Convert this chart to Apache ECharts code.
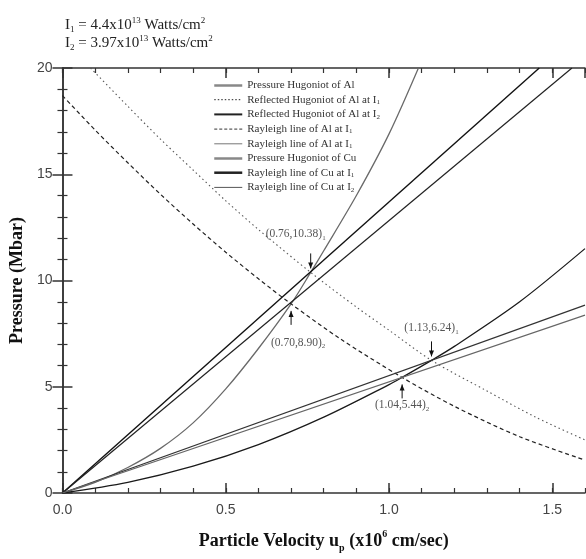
<!DOCTYPE html>
<html>
<head>
<meta charset="utf-8">
<script src="https://cdn.jsdelivr.net/npm/echarts@6/dist/echarts.min.js"></script>
<style>
  html, body { margin: 0; padding: 0; background: #fff; }
  #chart { width: 586px; height: 559px; }
</style>
</head>
<body>
<div id="chart"></div>
<script>
// values: particle velocity (x10^6 cm/sec) vs pressure (Mbar)
var alHugU = [0, 0.1, 0.2, 0.3, 0.4, 0.5, 0.6, 0.7, 0.76, 0.8, 0.9, 1.0, 1.09];
var alHugP = [0, 0.5, 1.2, 2.1, 3.3, 4.9, 6.8, 8.9, 10.38, 11.4, 14.0, 16.9, 20];

var reflI1U = [0.086, 0.2, 0.3, 0.4, 0.5, 0.6, 0.76, 0.9, 1.0, 1.13, 1.3, 1.45, 1.6];
var reflI1P = [20, 18.2, 16.65, 15.2, 13.75, 12.4, 10.38, 8.75, 7.66, 6.24, 4.8, 3.56, 2.5];

var reflI2U = [0, 0.1, 0.2, 0.3, 0.4, 0.5, 0.6, 0.7, 0.85, 1.04, 1.2, 1.4, 1.6];
var reflI2P = [18.7, 17.08, 15.54, 14.06, 12.66, 11.33, 10.08, 8.9, 7.26, 5.44, 4.08, 2.65, 1.55];

var rayAlI1U = [0, 1.46];
var rayAlI1P = [0, 20];
var rayAlI2U = [0, 1.56];
var rayAlI2P = [0, 20];

var cuHugU = [0, 0.2, 0.4, 0.6, 0.8, 1.0, 1.04, 1.13, 1.2, 1.4, 1.6];
var cuHugP = [0, 0.5, 1.26, 2.28, 3.57, 5.1, 5.44, 6.24, 6.9, 9.0, 11.5];

var rayCuI1U = [0, 1.6];
var rayCuI1P = [0, 8.84];
var rayCuI2U = [0, 1.6];
var rayCuI2P = [0, 8.37];

// marked crossing points
var noteU = [0.76, 0.70, 1.13, 1.04];
var noteP = [10.38, 8.90, 6.24, 5.44];
var noteSub = ['1', '2', '1', '2'];

// legend text (subscript kept apart)
var seriesKeys = ['alHug', 'reflI1', 'reflI2', 'rayAlI1', 'rayAlI2', 'cuHug', 'rayCuI1', 'rayCuI2'];
var legendText = ['Pressure Hugoniot of Al', 'Reflected Hugoniot of Al at I', 'Reflected Hugoniot of Al at I',
  'Rayleigh line of Al at I', 'Rayleigh line of Al at I', 'Pressure Hugoniot of Cu',
  'Rayleigh line of Cu at I', 'Rayleigh line of Cu at I'];
var legendSub = ['', '1', '2', '1', '1', '', '1', '2'];

var serif = 'Liberation Serif';
var sans = 'Liberation Sans';

function pairs(u, p) {
  return u.map(function (v, i) { return [v, p[i]]; });
}

function lineSeries(name, u, p, style, smooth) {
  return {
    name: name, type: 'line', data: pairs(u, p), symbol: 'none',
    smooth: smooth ? 0.3 : false, lineStyle: style, xAxisIndex: 0, yAxisIndex: 0,
    emphasis: { disabled: true }
  };
}

var noteDx = [-15, 7, 0, 0];
var noteDy = [-38, 39, -32, 28];

function renderNote(params, api) {
  var i = params.dataIndex;
  var pt = api.coord([api.value(0), api.value(1)]);
  var x = pt[0], y = pt[1];
  var below = noteDy[i] > 0;
  var tip = below ? y + 7 : y - 4;
  var tail = below ? y + 21 : y - 19;
  var base = below ? tip + 6 : tip - 6;
  var label = '(' + api.value(0).toFixed(2) + ',' + api.value(1).toFixed(2) + ')';
  return {
    type: 'group',
    children: [
      { type: 'line', shape: { x1: x, y1: tail, x2: x, y2: tip }, style: { stroke: '#111', lineWidth: 1 } },
      { type: 'polygon', shape: { points: [[x, tip], [x - 2.5, base], [x + 2.5, base]] }, style: { fill: '#111' } },
      {
        type: 'text', x: x + noteDx[i], y: y + noteDy[i],
        style: {
          text: '{a|' + label + '}{s|' + noteSub[i] + '}',
          align: 'center', verticalAlign: 'middle',
          rich: {
            a: { fontFamily: serif, fontSize: 11.5, fill: '#555', lineHeight: 14, verticalAlign: 'middle' },
            s: { fontFamily: serif, fontSize: 7, fill: '#555', lineHeight: 8, verticalAlign: 'bottom' }
          }
        }
      }
    ]
  };
}

var axisLine = { show: true, lineStyle: { color: '#333', width: 1.5 } };
var tickMajor = { show: true, inside: true, length: 10, lineStyle: { color: '#333', width: 1.5 } };
var tickMinor = { show: true, inside: true, length: 5, lineStyle: { color: '#333', width: 1.2 } };
var tickLabel = { fontFamily: sans, fontSize: 14, color: '#444', margin: 10 };
var noMark = { color: 'rgba(0,0,0,0)', borderWidth: 0, opacity: 0 };

var chart = echarts.init(document.getElementById('chart'));

chart.setOption({
  animation: false,
  backgroundColor: '#fff',
  title: {
    left: 60, top: 11,
    text: '{b|I}{sub|1}{b| = 4.4x10}{sup|13}{b| Watts/cm}{sup|2}\n{b|I}{sub|2}{b| = 3.97x10}{sup|13}{b| Watts/cm}{sup|2}',
    textStyle: {
      fontWeight: 'normal',
      rich: {
        b: { fontFamily: serif, fontWeight: 'normal', fontSize: 15, color: '#222', lineHeight: 18, verticalAlign: 'middle' },
        sup: { fontFamily: serif, fontWeight: 'normal', fontSize: 9, color: '#222', lineHeight: 8, verticalAlign: 'top' },
        sub: { fontFamily: serif, fontWeight: 'normal', fontSize: 9, color: '#222', lineHeight: 7, verticalAlign: 'bottom' }
      }
    }
  },
  grid: { left: 62, right: 1, top: 68, bottom: 66 },
  legend: {
    orient: 'vertical', left: 213, top: 80, padding: 0,
    itemWidth: 28, itemHeight: 10, itemGap: 3.2,
    itemStyle: noMark,
    data: [
      { name: 'alHug', itemStyle: noMark, lineStyle: { color: '#888', width: 2.5, type: 'solid' } },
      { name: 'reflI1', itemStyle: noMark, lineStyle: { color: '#222', width: 1, type: [1.5, 2] } },
      { name: 'reflI2', itemStyle: noMark, lineStyle: { color: '#222', width: 2, type: 'solid' } },
      { name: 'rayAlI1', itemStyle: noMark, lineStyle: { color: '#333', width: 1, type: [3, 2] } },
      { name: 'rayAlI2', itemStyle: noMark, lineStyle: { color: '#777', width: 1, type: 'solid' } },
      { name: 'cuHug', itemStyle: noMark, lineStyle: { color: '#888', width: 2.5, type: 'solid' } },
      { name: 'rayCuI1', itemStyle: noMark, lineStyle: { color: '#222', width: 2.5, type: 'solid' } },
      { name: 'rayCuI2', itemStyle: noMark, lineStyle: { color: '#555', width: 1, type: 'solid' } }
    ],
    formatter: function (name) {
      var i = seriesKeys.indexOf(name);
      return '{t|' + legendText[i] + '}' + (legendSub[i] ? '{s|' + legendSub[i] + '}' : '');
    },
    textStyle: {
      padding: 0,
      rich: {
        t: { fontFamily: serif, fontSize: 11, color: '#333', lineHeight: 12, verticalAlign: 'middle' },
        s: { fontFamily: serif, fontSize: 7, color: '#333', lineHeight: 7, verticalAlign: 'bottom' }
      }
    }
  },
  xAxis: [
    {
      type: 'value', position: 'bottom', min: 0, max: 1.6, interval: 0.5,
      axisLine: axisLine, axisTick: tickMajor, splitLine: { show: false },
      axisLabel: Object.assign({ formatter: function (v) { return v.toFixed(1); }, showMaxLabel: false }, tickLabel),
      name: '{b|Particle Velocity u}{sub|p}{b| (x10}{sup|6}{b| cm/sec)}',
      nameLocation: 'middle', nameGap: 36,
      nameTextStyle: {
        rich: {
          b: { fontFamily: serif, fontWeight: 'bold', fontSize: 18, color: '#111', lineHeight: 24, verticalAlign: 'middle' },
          sup: { fontFamily: serif, fontWeight: 'bold', fontSize: 10, color: '#111', lineHeight: 10, verticalAlign: 'top' },
          sub: { fontFamily: serif, fontWeight: 'bold', fontSize: 10, color: '#111', lineHeight: 10, verticalAlign: 'bottom' }
        }
      }
    },
    {
      type: 'value', position: 'bottom', min: 0, max: 1.6, interval: 0.1,
      axisLine: { show: false }, axisTick: tickMinor, axisLabel: { show: false }, splitLine: { show: false }
    },
    {
      type: 'value', position: 'top', min: 0, max: 1.6, interval: 0.5,
      axisLine: axisLine, axisTick: tickMajor, axisLabel: { show: false }, splitLine: { show: false }
    },
    {
      type: 'value', position: 'top', min: 0, max: 1.6, interval: 0.1,
      axisLine: { show: false }, axisTick: tickMinor, axisLabel: { show: false }, splitLine: { show: false }
    }
  ],
  yAxis: [
    {
      type: 'value', position: 'left', min: 0, max: 20, interval: 5,
      axisLine: axisLine, axisTick: tickMajor,
      minorTick: { show: true, splitNumber: 5, length: 5, lineStyle: { color: '#333', width: 1.2 } },
      splitLine: { show: false }, minorSplitLine: { show: false },
      axisLabel: tickLabel,
      name: 'Pressure (Mbar)', nameLocation: 'middle', nameGap: 30,
      nameTextStyle: { fontFamily: serif, fontWeight: 'bold', fontSize: 18, color: '#111' }
    },
    {
      type: 'value', position: 'right', min: 0, max: 20, interval: 5,
      axisLine: axisLine, axisTick: tickMajor,
      minorTick: { show: true, splitNumber: 5, length: 5, lineStyle: { color: '#333', width: 1.2 } },
      splitLine: { show: false }, axisLabel: { show: false }
    }
  ],
  series: [
    lineSeries('alHug', alHugU, alHugP, { color: '#6a6a6a', width: 1.3 }, true),
    lineSeries('reflI1', reflI1U, reflI1P, { color: '#555', width: 1.1, type: [1.5, 3] }, true),
    lineSeries('reflI2', reflI2U, reflI2P, { color: '#222', width: 1.2, type: [4, 3] }, true),
    lineSeries('rayAlI1', rayAlI1U, rayAlI1P, { color: '#111', width: 1.4 }, false),
    lineSeries('rayAlI2', rayAlI2U, rayAlI2P, { color: '#222', width: 1.2 }, false),
    lineSeries('cuHug', cuHugU, cuHugP, { color: '#1a1a1a', width: 1.3 }, true),
    lineSeries('rayCuI1', rayCuI1U, rayCuI1P, { color: '#333', width: 1.2 }, false),
    lineSeries('rayCuI2', rayCuI2U, rayCuI2P, { color: '#666', width: 1.1 }, false),
    {
      type: 'custom', xAxisIndex: 0, yAxisIndex: 0, z: 10, silent: true,
      renderItem: renderNote,
      data: pairs(noteU, noteP)
    }
  ]
});
</script>
</body>
</html>
